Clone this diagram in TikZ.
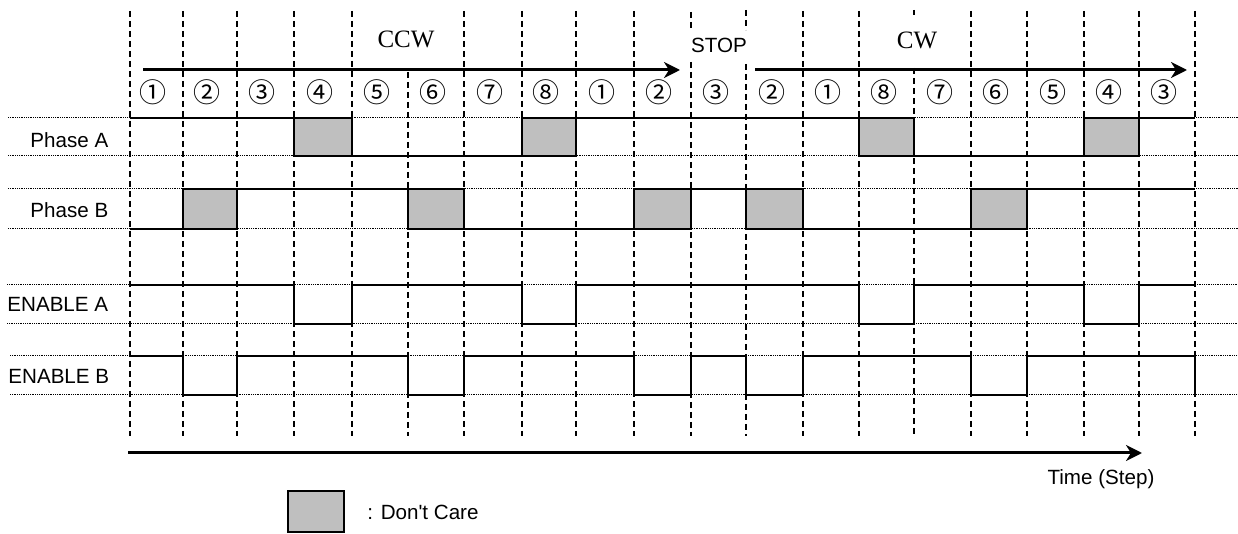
\documentclass[tikz,border=0pt]{standalone}
\usepackage{fontspec}
\setmainfont{Liberation Sans}
\newfontfamily\plainsans{Liberation Sans}
\newfontfamily\serifcw{Liberation Serif}
\newfontfamily\circfont{Noto Sans CJK JP}
\usetikzlibrary{arrows.meta}
\begin{document}
\begin{tikzpicture}[x=0.5pt,y=-0.5pt,
  wave/.style={line width=1.3pt, line join=miter},
  dcbox/.style={fill=black!25, draw=black, line width=1.15pt},
  gridline/.style={dash pattern=on 3pt off 2pt, line width=0.6pt},
  refline/.style={dash pattern=on 0.45pt off 0.45pt, line width=0.5pt},
  arr/.style={line width=1.5pt, -{Stealth[length=8pt,width=8pt,inset=2.5pt]}},
  lbl/.style={font=\fontsize{10.3}{12}\selectfont, inner sep=0pt},
  dirlbl/.style={font=\serifcw\fontsize{12.5}{14}\selectfont, inner sep=0pt},
  circ/.style={font=\circfont\fontsize{13.5}{14}\selectfont, inner sep=0pt}
]
\useasboundingbox (0,0) rectangle (1238,534);
% dotted reference levels
\foreach \y/\xs in {118/8,156/8,189/8,229/8,285/7,324/7,356/10,395/10}
  \draw[refline] (\xs,\y) -- (1238,\y);
% vertical dashed step lines
\foreach \x in {130,183,237,294,352,464,522,576,634,803,859,971,1027,1084,1139,1195}
  \draw[gridline] (\x,11) -- (\x,436);
\draw[gridline] (408,72) -- (408,436);
\draw[gridline] (691,12) -- (691,29);
\draw[gridline] (691,62) -- (691,436);
\draw[gridline] (746,10) -- (746,30);
\draw[gridline] (746,64) -- (746,436);
\draw[gridline] (914,10) -- (914,15);
\draw[gridline] (914,68) -- (914,436);
% direction labels and arrows
\node[dirlbl] (ccw) at (406,39) {CCW};
\node[dirlbl] (cw) at (917,40) {CW};
\node[lbl] (stop) at (719,45) {STOP};
\coordinate (ccwS) at (143,70);
\coordinate (ccwE) at (680,70);
\coordinate (cwS) at (755,70);
\coordinate (cwE) at (1187,70);
\draw[arr] (ccwS) -- (ccwE);
\draw[arr] (cwS) -- (cwE);
% step numbers
\foreach \i/\x/\c in {1/153/①,2/207/②,3/262/③,4/320/④,5/377/⑤,6/433/⑥,7/490/⑦,8/546/⑧,9/602/①,10/659/②,11/716/③,12/772/②,13/828/①,14/884/⑧,15/940/⑦,16/996/⑥,17/1053/⑤,18/1109/④,19/1164/③}
  \node[circ] (s\i) at (\x,92) {\c};
% signal labels
\node[lbl, anchor=west] (pa) at (30,140) {Phase A};
\node[lbl, anchor=west] (pb) at (30,210) {Phase B};
\node[lbl, anchor=west] (ea) at (7,304) {ENABLE A};
\node[lbl, anchor=west] (eb) at (8,376) {ENABLE B};
% Phase A
\draw[wave] (130,118) -- (294,118);
\draw[wave] (352,156) -- (522,156);
\draw[wave] (576,118) -- (859,118);
\draw[wave] (914,156) -- (1084,156);
\draw[wave] (1139,118) -- (1195,118);
\foreach \a/\b in {294/352,522/576,859/914,1084/1139}
  \draw[dcbox] (\a,118) rectangle (\b,156);
% Phase B
\draw[wave] (130,229) -- (183,229);
\draw[wave] (237,189) -- (408,189);
\draw[wave] (464,229) -- (634,229);
\draw[wave] (691,189) -- (746,189);
\draw[wave] (803,229) -- (971,229);
\draw[wave] (1027,189) -- (1195,189);
\foreach \a/\b in {183/237,408/464,634/691,746/803,971/1027}
  \draw[dcbox] (\a,189) rectangle (\b,229);
% ENABLE A
\draw[wave] (130,285) -| (294,324) -| (352,285) -| (522,324) -| (576,285)
  -| (859,324) -| (914,285) -| (1084,324) -| (1139,285) -- (1195,285);
% ENABLE B
\draw[wave] (130,356) -| (183,395) -| (237,356) -| (408,395) -| (464,356)
  -| (634,395) -| (691,356) -| (746,395) -| (803,356) -| (971,395)
  -| (1027,356) -| (1195,395);
% time axis
\coordinate (tS) at (128,453);
\coordinate (tE) at (1142,453);
\draw[arr] (tS) -- (tE);
\node[lbl] (time) at (1101,479) {Time (Step)};
% legend
\draw[dcbox] (288,491) rectangle (344,532);
\node[lbl, anchor=west, font=\plainsans\fontsize{10.3}{12}\selectfont] (legend) at (367,512) {: Don't Care};
\end{tikzpicture}
\end{document}
